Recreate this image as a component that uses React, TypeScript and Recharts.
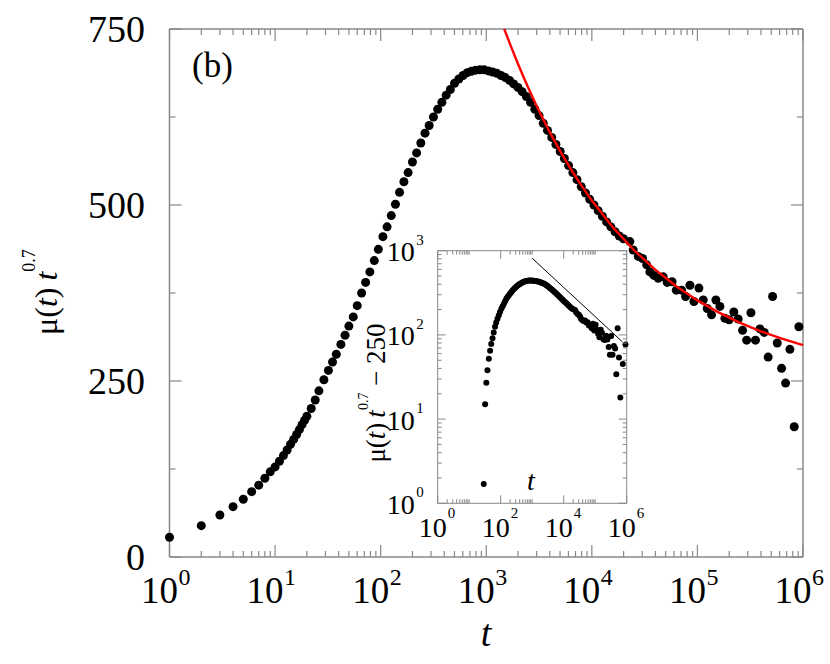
import React from 'react';
import { ComposedChart, Scatter, XAxis, YAxis } from 'recharts';

const FONT = "'Liberation Serif', 'Times New Roman', Times, serif";
const AXIS = '#888888';

// time t of each data point
const tValues = [
  1, 2, 3, 4, 5, 6, 7, 8, 9, 10, 11, 12, 13, 14, 15, 16, 17, 18, 19, 20,
  22, 24, 26, 29, 32, 35, 38, 42, 46, 50, 55, 60, 66, 72, 79, 87, 95, 105, 115, 126,
  138, 151, 166, 182, 200, 219, 240, 263, 288, 316, 347, 380, 417, 457, 501, 550, 603, 661, 724, 794,
  871, 955, 1047, 1148, 1259, 1380, 1514, 1660, 1820, 1995, 2188, 2399, 2630, 2884, 3162, 3467, 3802, 4169, 4571, 5012,
  5495, 6026, 6607, 7244, 7943, 8710, 9550, 10471, 11482, 12589, 13804, 15136, 16596, 18197, 19953,
  22909, 24660, 27542, 30200, 33113, 35481, 38726, 42560, 47424, 51761, 57544, 63096, 70795, 77268, 84918, 92683,
  103276, 113501, 123880, 136144, 149624, 163305, 181970, 199526, 221309, 243220, 267917, 292415, 321366, 354813,
  390841, 429536, 467735, 515229, 570164, 626614, 683912, 751623, 826038, 914113,
];

// mu(t) t^0.7 at each t
const muValues = [
  28, 44.5, 59.6, 71.5, 82, 92.8, 102, 111.8, 121, 128, 136, 144, 152, 160, 167, 174, 181, 188, 194, 200,
  211, 223, 236, 251.7, 265, 277, 288, 302, 315, 328, 341, 357, 375, 390, 405, 421, 437, 455, 469, 485,
  501, 518, 533, 546, 561, 574, 588, 602, 613, 625, 636, 646, 656, 664, 673, 679, 684, 688, 690, 691.5,
  692, 692, 690.5, 689, 687, 684, 681, 677, 672, 667, 661, 654, 646, 636, 627, 616, 606, 596, 586, 576,
  566, 556, 546, 536, 526, 517, 508, 500, 492, 484, 476, 469, 462, 456, 452,
  448, 436, 427, 424, 415, 405, 400, 396, 398, 390, 391, 379, 379, 370, 386, 363,
  382, 365, 353, 344, 365, 356, 339, 337, 348, 338, 322, 308, 347, 308,
  324, 319, 284, 370, 304, 268, 247, 295, 185, 327,
];

// red fitted curve
const fitT = [1479, 1585, 1778, 1995, 2239, 2512, 2818, 3162, 3981, 5012, 6310, 7943, 10000, 15849, 25119, 39811, 63096, 100000, 158489, 251189, 398107, 630957, 1000000];
const fitV = [750, 738.5, 719.2, 700.7, 682.9, 665.8, 649.4, 633.6, 603.9, 576.5, 551.2, 527.9, 506.4, 468.2, 435.7, 408.1, 384.5, 364.5, 347.5, 333, 320.6, 310.1, 301.1];

// straight guide line in the inset
const guideT = [1000, 724000];
const guideV = [813, 83];

const OFFSET = 250;

// ticks
const mainXMajor = [1, 10, 100, 1000, 10000, 100000, 1000000];
const mainYTicks = [0, 125, 250, 375, 500, 625, 750];
const mainYMajor = [0, 250, 500, 750];
const insetXMajor = [1, 100, 10000, 1000000];
const insetYMajor = [1, 10, 100, 1000];
const minorFactors = [2, 3, 4, 5, 6, 7, 8, 9];

const mainXTicks: number[] = [];
mainXMajor.forEach((d, i) => {
  mainXTicks.push(d);
  if (i < mainXMajor.length - 1) minorFactors.forEach((k) => mainXTicks.push(k * d));
});
const insetXTicks: number[] = [];
insetXMajor.forEach((d, i) => {
  insetXTicks.push(d);
  if (i < insetXMajor.length - 1) [...minorFactors, 10].forEach((k) => insetXTicks.push(k * d));
});
const insetYTicks: number[] = [];
insetYMajor.forEach((d, i) => {
  insetYTicks.push(d);
  if (i < insetYMajor.length - 1) minorFactors.forEach((k) => insetYTicks.push(k * d));
});

const mainPoints = tValues.map((t, i) => ({ t, v: muValues[i] }));
const fitPoints = fitT.map((t, i) => ({ t, v: fitV[i] }));
const insetPoints = mainPoints.filter((p) => p.v - OFFSET >= 1).map((p) => ({ t: p.t, v: p.v - OFFSET }));
const guidePoints = guideT.map((t, i) => ({ t, v: guideV[i] }));

const near = (a: number, list: number[]) => list.some((b) => Math.abs(a - b) / b < 1e-6 || a === b);
const expOf = (v: number) => Math.round(Math.log10(v));

function MainBottomTick(props: any) {
  const { x, y, payload } = props;
  const v = payload.value;
  const major = near(v, mainXMajor);
  return (
    <g>
      <line x1={x} y1={y} x2={x} y2={y - (major ? 12 : 6)} stroke={AXIS} strokeWidth={1.2} />
      {major && (
        <g>
          <text x={x - 10} y={y + 46} textAnchor="middle" fontSize={37} fontFamily={FONT} fill="#000">10</text>
          <text x={x + 9} y={y + 28} textAnchor="start" fontSize={24} fontFamily={FONT} fill="#000">{expOf(v)}</text>
        </g>
      )}
    </g>
  );
}
function MainTopTick(props: any) {
  const { x, y, payload } = props;
  const major = near(payload.value, mainXMajor);
  return <line x1={x} y1={y} x2={x} y2={y + (major ? 12 : 6)} stroke={AXIS} strokeWidth={1.2} />;
}
function MainLeftTick(props: any) {
  const { x, y, payload } = props;
  const v = payload.value;
  const major = mainYMajor.includes(v);
  return (
    <g>
      <line x1={x} y1={y} x2={x + (major ? 12 : 6)} y2={y} stroke={AXIS} strokeWidth={1.2} />
      {major && (
        <text x={x - 24.5} y={y + 13} textAnchor="end" fontSize={38} fontFamily={FONT} fill="#000">{v}</text>
      )}
    </g>
  );
}
function MainRightTick(props: any) {
  const { x, y, payload } = props;
  const major = mainYMajor.includes(payload.value);
  return <line x1={x} y1={y} x2={x - (major ? 12 : 6)} y2={y} stroke={AXIS} strokeWidth={1.2} />;
}

function InsetBottomTick(props: any) {
  const { x, y, payload } = props;
  const v = payload.value;
  const major = near(v, insetXMajor);
  return (
    <g>
      <line x1={x} y1={y} x2={x} y2={y - (major ? 8 : 4)} stroke={AXIS} strokeWidth={1} />
      {major && (
        <g>
          <text x={x - 5} y={y + 34} textAnchor="middle" fontSize={28} fontFamily={FONT} fill="#000">10</text>
          <text x={x + 10} y={y + 15} textAnchor="start" fontSize={15} fontFamily={FONT} fill="#000">{expOf(v)}</text>
        </g>
      )}
    </g>
  );
}
function InsetTopTick(props: any) {
  const { x, y, payload } = props;
  const major = near(payload.value, insetXMajor);
  return <line x1={x} y1={y} x2={x} y2={y + (major ? 8 : 4)} stroke={AXIS} strokeWidth={1} />;
}
function InsetLeftTick(props: any) {
  const { x, y, payload } = props;
  const v = payload.value;
  const major = near(v, insetYMajor);
  return (
    <g>
      <line x1={x} y1={y} x2={x + (major ? 8 : 4)} y2={y} stroke={AXIS} strokeWidth={1} />
      {major && (
        <g>
          <text x={x - 23} y={y + 10.5} textAnchor="end" fontSize={28} fontFamily={FONT} fill="#000">10</text>
          <text x={x - 21.5} y={y - 6} textAnchor="start" fontSize={15} fontFamily={FONT} fill="#000">{expOf(v)}</text>
        </g>
      )}
    </g>
  );
}
function InsetRightTick(props: any) {
  const { x, y, payload } = props;
  const major = near(payload.value, insetYMajor);
  return <line x1={x} y1={y} x2={x - (major ? 8 : 4)} y2={y} stroke={AXIS} strokeWidth={1} />;
}

const Dot = (r: number) => (p: any) => <circle cx={p.cx} cy={p.cy} r={r} fill="#000" />;
const NoShape = () => <g />;

const axisLine = { stroke: AXIS, strokeWidth: 1.5 };
const insetAxisLine = { stroke: AXIS, strokeWidth: 1 };

export default function App() {
  return (
    <div style={{ position: 'absolute', left: 0, top: 0, width: 830, height: 664, background: '#fff' }}>
      <div style={{ position: 'absolute', left: 0, top: 0 }}>
        <ComposedChart width={830} height={664} margin={{ left: 168.5, right: 26, top: 28, bottom: 106 }}>
          <XAxis xAxisId="b" dataKey="t" type="number" scale="log" domain={[1, 1000000]} ticks={mainXTicks} interval={0}
            orientation="bottom" height={1} tickSize={0} tickMargin={0} tickLine={false} axisLine={axisLine} tick={<MainBottomTick />} />
          <XAxis xAxisId="t" dataKey="t" type="number" scale="log" domain={[1, 1000000]} ticks={mainXTicks} interval={0}
            orientation="top" height={1} tickSize={0} tickMargin={0} tickLine={false} axisLine={axisLine} tick={<MainTopTick />} />
          <YAxis yAxisId="l" dataKey="v" type="number" domain={[0, 750]} ticks={mainYTicks} interval={0}
            orientation="left" width={1} tickSize={0} tickMargin={0} tickLine={false} axisLine={axisLine} tick={<MainLeftTick />} />
          <YAxis yAxisId="r" dataKey="v" type="number" domain={[0, 750]} ticks={mainYTicks} interval={0}
            orientation="right" width={1} tickSize={0} tickMargin={0} tickLine={false} axisLine={axisLine} tick={<MainRightTick />} />
          <Scatter xAxisId="t" yAxisId="r" data={mainPoints} dataKey="v" shape={NoShape} isAnimationActive={false} />
          <Scatter xAxisId="b" yAxisId="l" data={mainPoints} dataKey="v" shape={Dot(4.5)} isAnimationActive={false} />
          <Scatter xAxisId="b" yAxisId="l" data={fitPoints} dataKey="v" shape={NoShape}
            line={{ stroke: '#ff0000', strokeWidth: 2.4 }} lineType="joint" isAnimationActive={false} />
        </ComposedChart>
      </div>
      <div style={{ position: 'absolute', left: 437.7, top: 250.7, width: 189, height: 252.6, background: '#fff' }} />
      <div style={{ position: 'absolute', left: 340, top: 230 }}>
        <ComposedChart width={340} height={330} margin={{ left: 96.7, right: 52.3, top: 19.7, bottom: 55.7 }}>
          <XAxis xAxisId="b" dataKey="t" type="number" scale="log" domain={[1, 1000000]} ticks={insetXTicks} interval={0}
            orientation="bottom" height={1} tickSize={0} tickMargin={0} tickLine={false} axisLine={insetAxisLine} tick={<InsetBottomTick />} />
          <XAxis xAxisId="t" dataKey="t" type="number" scale="log" domain={[1, 1000000]} ticks={insetXTicks} interval={0}
            orientation="top" height={1} tickSize={0} tickMargin={0} tickLine={false} axisLine={insetAxisLine} tick={<InsetTopTick />} />
          <YAxis yAxisId="l" dataKey="v" type="number" scale="log" domain={[1, 1000]} ticks={insetYTicks} interval={0}
            orientation="left" width={1} tickSize={0} tickMargin={0} tickLine={false} axisLine={insetAxisLine} tick={<InsetLeftTick />} />
          <YAxis yAxisId="r" dataKey="v" type="number" scale="log" domain={[1, 1000]} ticks={insetYTicks} interval={0}
            orientation="right" width={1} tickSize={0} tickMargin={0} tickLine={false} axisLine={insetAxisLine} tick={<InsetRightTick />} />
          <Scatter xAxisId="t" yAxisId="r" data={insetPoints} dataKey="v" shape={NoShape} isAnimationActive={false} />
          <Scatter xAxisId="b" yAxisId="l" data={guidePoints} dataKey="v" shape={NoShape}
            line={{ stroke: '#000', strokeWidth: 1 }} lineType="joint" isAnimationActive={false} />
          <Scatter xAxisId="b" yAxisId="l" data={insetPoints} dataKey="v" shape={Dot(3)} isAnimationActive={false} />
        </ComposedChart>
      </div>
      <svg width={830} height={664} style={{ position: 'absolute', left: 0, top: 0, pointerEvents: 'none' }}>
        <text x={192} y={77} fontSize={35} fontFamily={FONT} fill="#000">(b)</text>
        <text x={486} y={646} fontSize={38} fontFamily={FONT} fontStyle="italic" textAnchor="middle" fill="#000">t</text>
        <text transform="translate(57,292) rotate(-90)" textAnchor="middle" fontSize={32} fontFamily={FONT} fill="#000">
          <tspan>μ(</tspan>
          <tspan fontStyle="italic">t</tspan>
          <tspan>)</tspan>
          <tspan dx={7} fontStyle="italic">t</tspan>
          <tspan dy={-22} fontSize={18}>0.7</tspan>
        </text>
        <text transform="translate(385,393) rotate(-90)" textAnchor="middle" fontSize={27} fontFamily={FONT} fill="#000">
          <tspan>μ(</tspan>
          <tspan fontStyle="italic">t</tspan>
          <tspan>)</tspan>
          <tspan dx={5} fontStyle="italic">t</tspan>
          <tspan dy={-17} fontSize={14}>0.7</tspan>
          <tspan dy={17}>{' \u2212 250'}</tspan>
        </text>
        <text x={531} y={490} fontSize={28} fontFamily={FONT} fontStyle="italic" textAnchor="middle" fill="#000">t</text>
      </svg>
    </div>
  );
}
